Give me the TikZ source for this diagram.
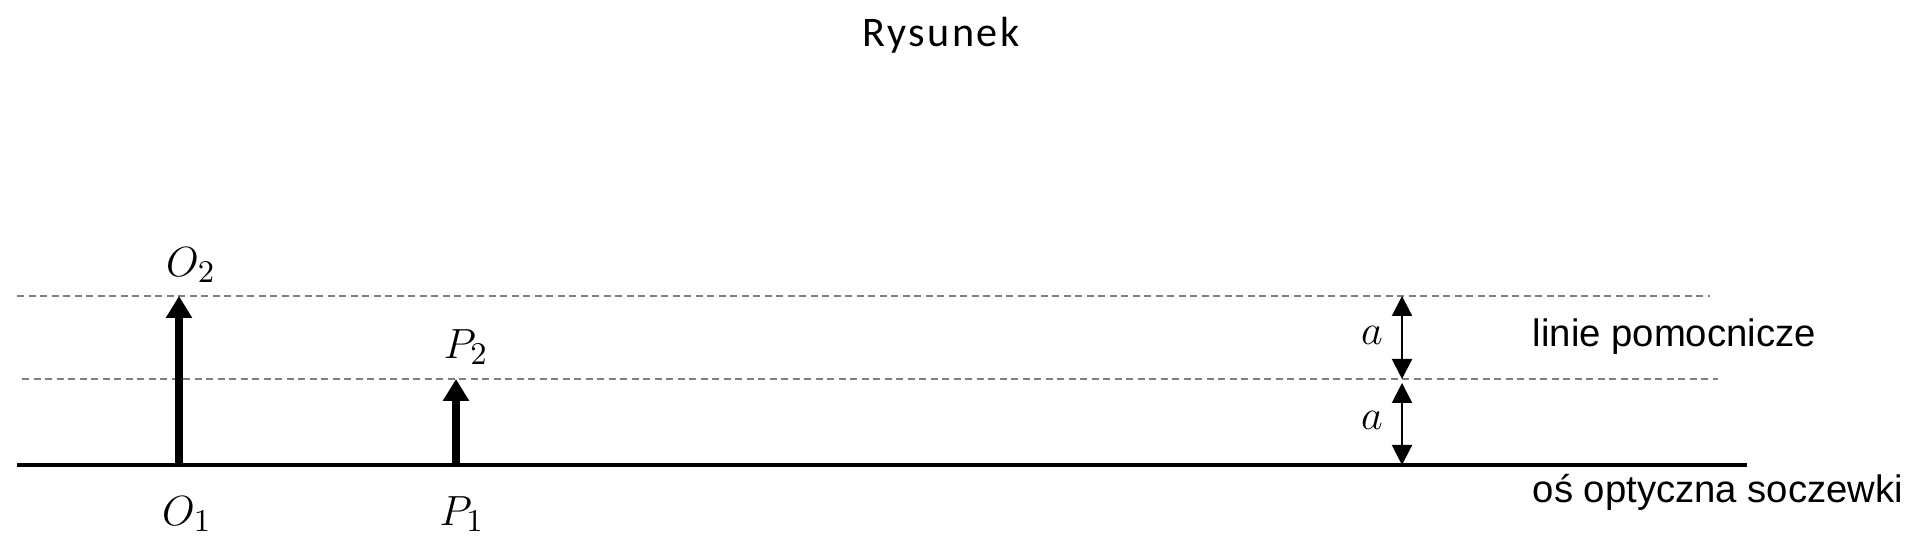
\documentclass[tikz,border=0pt]{standalone}
\usepackage{fontspec}
\usepackage{tikz}
\usetikzlibrary{arrows.meta}
\newfontfamily\labelfont{Liberation Sans}
\newfontfamily\titlefont[LetterSpace=6]{Carlito}

\begin{document}
\begin{tikzpicture}[mytext/.style={inner sep=0pt, font=\labelfont\fontsize{10.9pt}{13pt}\selectfont},
  mymath/.style={inner sep=0pt, font=\fontsize{12.5pt}{14pt}\selectfont},
  myvec/.style={line width=2pt, -{Triangle[width=0.25cm,length=0.22cm]}},
  mydim/.style={line width=0.6pt, {Triangle[width=0.2cm,length=0.2cm]}-{Triangle[width=0.2cm,length=0.2cm]}},
  myaux/.style={gray, line width=0.35pt, dash pattern=on 0.07cm off 0.045cm}]
\useasboundingbox (0,0) rectangle (19.2,5.49);

%title
  \node[inner sep=0pt, anchor=base, font=\titlefont\fontsize{12pt}{15pt}\selectfont] (title) at (9.41,5.02) {Rysunek};

%helper points
  \coordinate (axL) at (0.17,0.84);
  \coordinate (axR) at (17.47,0.84);
  \coordinate (upL) at (0.17,2.53);
  \coordinate (upR) at (17.10,2.53);
  \coordinate (loL) at (0.22,1.70);
  \coordinate (loR) at (17.18,1.70);
  \coordinate (O1) at (1.79,0.84);
  \coordinate (O2) at (1.79,2.53);
  \coordinate (P1) at (4.56,0.84);
  \coordinate (P2) at (4.56,1.70);
  \coordinate (A0) at (14.02,0.84);
  \coordinate (A1) at (14.02,1.70);
  \coordinate (A2) at (14.02,2.53);

%dashed helper lines
  \draw[myaux] (upL) -- (upR);
  \draw[myaux] (loL) -- (loR);

%optical axis
  \draw[line width=1.4pt] (axL) -- (axR);

%objects
  \draw[myvec] (O1) -- (O2);
  \draw[myvec] (P1) -- (P2);

%distances
  \draw[mydim] (A1) -- (A2);
  \draw[mydim] (A0) -- ([yshift=-0.04cm]A1);

%labels
  \node[mymath] (lO2) at (1.91,2.84) {$O_2$};
  \node[mymath] (lP2) at (4.66,2.02) {$P_2$};
  \node[mymath] (lO1) at (1.87,0.35) {$O_1$};
  \node[mymath] (lP1) at (4.62,0.35) {$P_1$};
  \node[mymath] (la2) at (13.72,2.14) {$a$};
  \node[mymath] (la1) at (13.72,1.29) {$a$};
  \node[mytext, anchor=base west] (aux) at (15.32,2.02) {linie pomocnicze};
  \node[mytext, anchor=base west] (axis) at (15.32,0.46) {oś optyczna soczewki};
\end{tikzpicture}
\end{document}
